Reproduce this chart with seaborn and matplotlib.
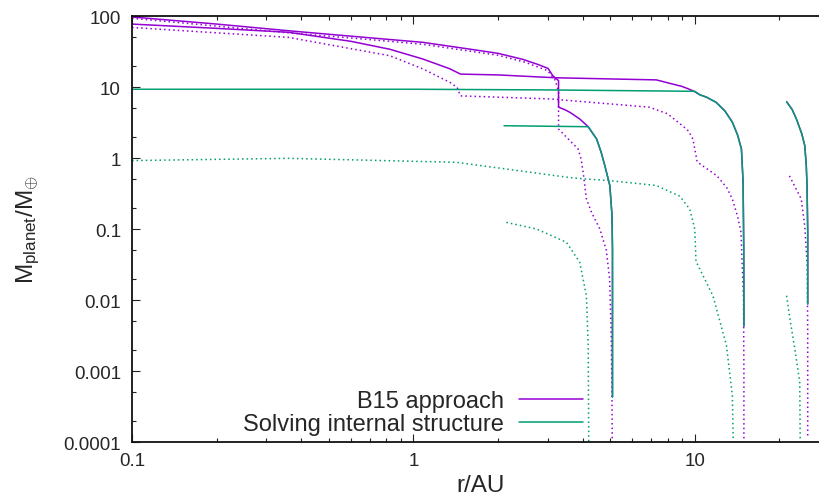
import numpy as np
import pandas as pd
import seaborn as sns
import matplotlib
matplotlib.use("Agg")
import matplotlib.pyplot as plt
from matplotlib.ticker import LogLocator, FuncFormatter, NullFormatter
from matplotlib.lines import Line2D

# --- values (r in AU, M in Earth masses) ---
# B15 approach, solid
b15_a_x = [0.1, 0.2, 0.36, 0.6, 1.08, 1.6, 2.0, 2.45, 2.75, 3.01, 3.13, 3.28, 3.28, 3.45, 3.6, 3.9, 4.18, 4.48, 4.65, 4.79, 4.99, 5.08, 5.1, 5.1]
b15_a_y = [97, 77, 62, 52, 42.6, 34, 29.8, 24.5, 21, 18.3, 14.4, 12.3, 5.2, 4.8, 4.4, 3.55, 2.76, 1.85, 1.2, 0.78, 0.41, 0.155, 0.05, 0.00043]
b15_b_x = [0.1, 0.2, 0.36, 0.6, 0.825, 1.08, 1.35, 1.47, 2.0, 3.2, 5.0, 7.3, 9.0, 9.5, 10.0, 10.4, 11.0, 11.9, 12.8, 13.6, 14.2, 14.65, 14.85, 14.93, 14.95]
b15_b_y = [77, 67, 59, 44, 34, 24.8, 18, 15.2, 14.8, 13.5, 13.0, 12.6, 10.2, 9.4, 8.6, 7.8, 7.2, 6.1, 4.6, 3.2, 2.1, 1.34, 0.46, 0.052, 0.0043]
b15_c_x = [21.2, 22.2, 23.0, 24.0, 24.6, 24.9, 25.06, 25.2, 25.2]
b15_c_y = [6.2, 4.8, 3.5, 2.2, 1.49, 0.8, 0.41, 0.091, 0.0088]

# B15 approach, dotted
b15d_a_x = [0.1, 0.36, 0.68, 1.08, 2.0, 2.5, 3.0, 3.2, 3.28, 3.28, 3.65, 3.85, 3.95, 4.01, 4.12, 4.3, 4.6, 4.85, 4.98, 5.05, 5.08, 5.09]
b15d_a_y = [93, 58, 47, 40, 28, 22.3, 17, 12.3, 8.4, 2.56, 1.66, 1.34, 0.95, 0.63, 0.265, 0.17, 0.1, 0.05, 0.02, 0.003, 0.0004, 0.0001]
b15d_b_x = [0.1, 0.36, 0.825, 1.08, 1.35, 1.43, 1.47, 3.05, 6.9, 8.0, 9.06, 9.5, 9.85, 10.2, 12.0, 13.0, 13.6, 14.2, 14.6, 14.9, 14.95, 14.95]
b15d_b_y = [69, 50, 27.6, 18, 11.6, 9.9, 7.5, 6.8, 5.2, 4.2, 2.83, 2.4, 1.85, 0.88, 0.56, 0.38, 0.265, 0.15, 0.09, 0.01, 0.001, 0.0001]
b15d_c_x = [21.7, 23.9, 24.6, 25.1, 25.2, 25.2]
b15d_c_y = [0.56, 0.265, 0.11, 0.03, 0.0035, 0.00012]

# solving internal structure, solid
sis_a_x = [0.1, 1.0, 3.0, 10.0, 10.4, 11.0, 11.9, 12.8, 13.6, 14.2, 14.65, 14.85, 14.93, 14.95]
sis_a_y = [9.3, 9.3, 9.1, 8.7, 7.8, 7.2, 6.1, 4.6, 3.2, 2.1, 1.34, 0.46, 0.052, 0.0043]
sis_b_x = [2.1, 4.18, 4.48, 4.65, 4.79, 4.99, 5.08, 5.1, 5.1]
sis_b_y = [2.85, 2.76, 1.85, 1.2, 0.78, 0.41, 0.155, 0.05, 0.00043]
sis_c_x = b15_c_x
sis_c_y = b15_c_y

# solving internal structure, dotted
sisd_a_x = [0.1, 0.36, 1.42, 3.6, 4.0, 5.0, 7.3, 8.85, 9.6, 10.0, 10.1, 11.6, 12.96, 13.6, 13.7]
sisd_a_y = [0.92, 0.99, 0.87, 0.53, 0.51, 0.48, 0.41, 0.29, 0.19, 0.1, 0.035, 0.0115, 0.0023, 0.00045, 0.0001]
sisd_b_x = [2.14, 2.74, 3.5, 3.9, 4.12, 4.18, 4.2]
sisd_b_y = [0.124, 0.1, 0.065, 0.034, 0.0115, 0.0023, 0.0001]
sisd_c_x = [21.2, 21.7, 22.7, 23.6, 23.7]
sisd_c_y = [0.0115, 0.006, 0.002, 0.0007, 0.0001]

labels = ["B15 approach", "Solving internal structure"]
purple = "#9400D3"
teal = "#009E73"

sns.set_style("ticks")
plt.rcParams['font.family'] = ['Liberation Sans', 'DejaVu Sans']
plt.rcParams['mathtext.fontset'] = 'custom'
plt.rcParams['mathtext.rm'] = 'Liberation Sans'
plt.rcParams['mathtext.it'] = 'Liberation Sans:italic'

fig = plt.figure(figsize=(8.2, 5.02), dpi=100)
ax = fig.add_axes([0.161, 0.1175, 0.85, 0.8486])

dot = (0, (1, 2))
def draw(x, y, color, ls):
    sns.lineplot(x=x, y=y, sort=False, estimator=None, color=color,
                 linestyle=ls, lw=1.1, ax=ax)

for x, y in [(b15_a_x, b15_a_y), (b15_b_x, b15_b_y), (b15_c_x, b15_c_y)]:
    draw(x, y, purple, "-")
for x, y in [(b15d_a_x, b15d_a_y), (b15d_b_x, b15d_b_y), (b15d_c_x, b15d_c_y)]:
    draw(x, y, purple, dot)
for x, y in [(sis_a_x, sis_a_y), (sis_b_x, sis_b_y), (sis_c_x, sis_c_y)]:
    draw(x, y, teal, "-")
for x, y in [(sisd_a_x, sisd_a_y), (sisd_b_x, sisd_b_y), (sisd_c_x, sisd_c_y)]:
    draw(x, y, teal, dot)

ax.set(xscale="log", yscale="log")
ax.set_xlim(0.1, 30)
ax.set_ylim(1e-4, 100)

fmt = FuncFormatter(lambda v, p: "%g" % v)
ax.xaxis.set_major_locator(LogLocator(base=10, numticks=10))
ax.xaxis.set_minor_locator(LogLocator(base=10, subs=np.arange(2, 10), numticks=10))
ax.yaxis.set_major_locator(LogLocator(base=10, numticks=10))
ax.yaxis.set_minor_locator(LogLocator(base=10, subs=(2, 5), numticks=10))
ax.xaxis.set_major_formatter(fmt)
ax.yaxis.set_major_formatter(fmt)
ax.xaxis.set_minor_formatter(NullFormatter())
ax.yaxis.set_minor_formatter(NullFormatter())

ax.tick_params(which="both", direction="in", top=True, right=True, width=0.8, color="#222222")
ax.tick_params(which="major", length=5.5, labelsize=13.5)
ax.tick_params(axis="y", which="major", pad=8)
ax.tick_params(axis="x", which="major", pad=7)
ax.tick_params(which="minor", length=3)
for s in ax.spines.values():
    s.set_linewidth(1.3)
    s.set_color("#111111")

ax.set_xlabel("r/AU", fontsize=17.5, labelpad=4)
ax.set_ylabel(r"M$_{\rm planet}$/M$_{\oplus}$", fontsize=17.5, labelpad=15)

handles = [Line2D([], [], color=purple, lw=1.1), Line2D([], [], color=teal, lw=1.1)]
ax.legend(handles, labels, loc="lower right", bbox_to_anchor=(583 / 820, 66 / 502),
          bbox_transform=fig.transFigure, frameon=False, markerfirst=False,
          fontsize=17, handlelength=2.7, handletextpad=0.65, labelspacing=0.05,
          borderpad=0, borderaxespad=0)

fig.savefig("out.png", dpi=100)
